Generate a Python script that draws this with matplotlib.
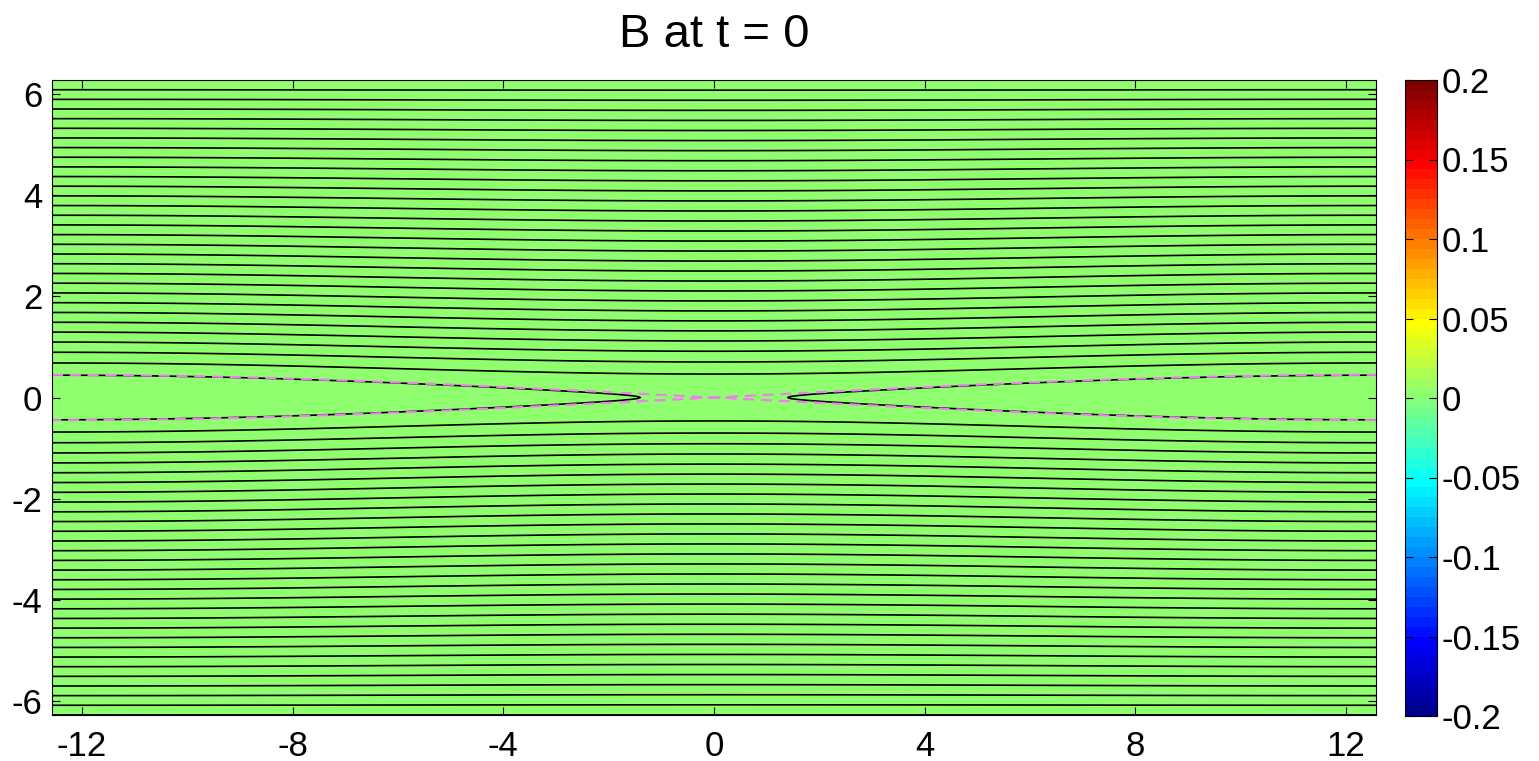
import numpy as np
import matplotlib.pyplot as plt
from matplotlib.colors import ListedColormap

plt.rcParams["font.family"] = ["Liberation Sans", "DejaVu Sans"]
plt.rcParams["axes.unicode_minus"] = False

# domain of the run
x_half = 4 * np.pi
y_half = 2 * np.pi

# flux function params (sheet width, island perturbation,
# contour step, x where the innermost island contour closes)
sheet_width = 0.5
perturb_amp = 0.09
flux_step = 0.195
island_tip = 1.4

# B is zero everywhere at t = 0
b_value = 0.0
b_range = [-0.2, 0.2]

x_ticks = [-12, -8, -4, 0, 4, 8, 12]
y_ticks = [-6, -4, -2, 0, 2, 4, 6]
cbar_ticks = [-0.2, -0.15, -0.1, -0.05, 0, 0.05, 0.1, 0.15, 0.2]
cbar_labels = ["-0.2", "-0.15", "-0.1", "-0.05", "0", "0.05", "0.1", "0.15", "0.2"]

x = np.linspace(-x_half, x_half, 801)
y = np.linspace(-y_half, y_half, 601)
X, Y = np.meshgrid(x, y)
psi = sheet_width * np.log(np.cosh(Y / sheet_width)) + perturb_amp * np.cos(X / 4) * np.cos(Y / 4)
B = np.full_like(psi, b_value)

base = perturb_amp * np.cos(island_tip / 4)
levels = base + flux_step * np.arange(0, int((psi.max() - base) / flux_step) + 1)
sep_level = perturb_amp  # value at the x-point

# matlab style jet(64)
t = np.arange(1, 65) / 64
jet64 = ListedColormap(np.clip(np.stack([1.5 - np.abs(4 * t - 3),
                                         1.5 - np.abs(4 * t - 2),
                                         1.5 - np.abs(4 * t - 1)], axis=1), 0, 1))

W, H = 1539, 761
fig = plt.figure(figsize=(W / 100, H / 100), dpi=100)
ax = fig.add_axes([52 / W, 1 - 715 / H, (1376 - 52) / W, (715 - 80) / H])
cax = fig.add_axes([1405 / W, 1 - 716 / H, 32 / W, 636 / H])

mesh = ax.pcolormesh(X, Y, B, cmap=jet64, vmin=b_range[0], vmax=b_range[1], shading="auto")
ax.contour(X, Y, psi, levels=levels, colors="k", linewidths=1.2)
ax.contour(X, Y, psi, levels=[sep_level], colors="#f080f0", linewidths=1.6,
           linestyles=[(0, (5, 3))])

ax.set_xlim(-x_half, x_half)
ax.set_ylim(-y_half, y_half)
ax.set_xticks(x_ticks)
ax.set_yticks(y_ticks)
ax.tick_params(direction="in", length=6, top=True, right=True, labelsize=25)
ax.tick_params(axis="x", pad=11)
ax.tick_params(axis="y", pad=7)
ax.set_title("B at t = 0", fontsize=34, pad=24)

cb = fig.colorbar(mesh, cax=cax)
cb.set_ticks(cbar_ticks)
cb.set_ticklabels(cbar_labels)
cax.tick_params(direction="in", length=6, left=True, right=True, labelsize=25, pad=3)
cb.outline.set_linewidth(0.8)

fig.savefig("out.png", dpi=100)
